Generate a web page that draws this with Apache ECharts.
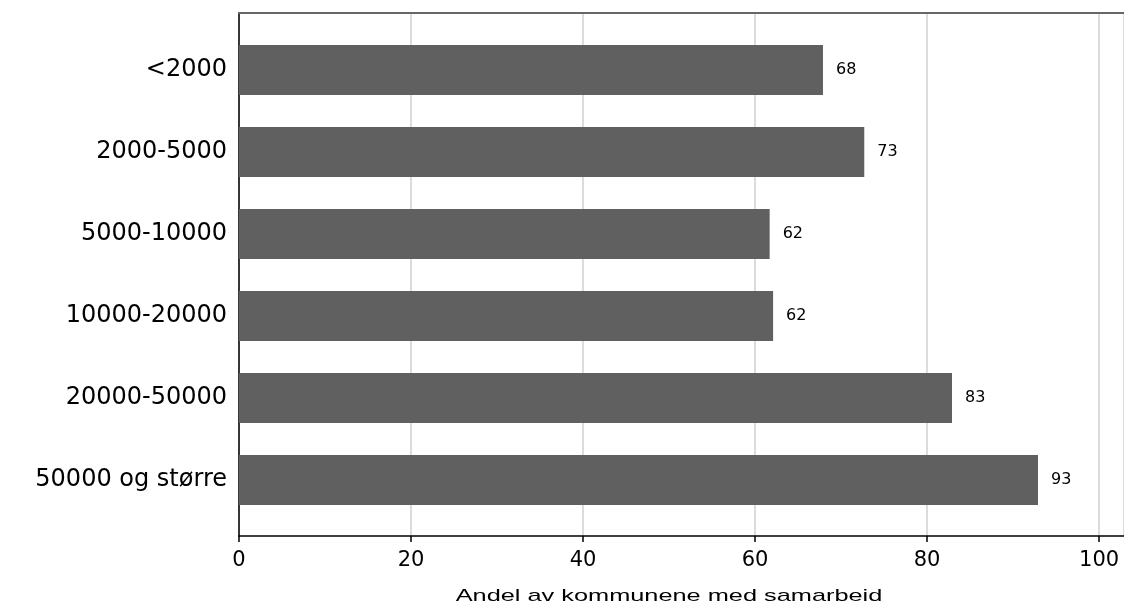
<!DOCTYPE html>
<html>
<head>
<meta charset="utf-8">
<script src="https://cdn.jsdelivr.net/npm/echarts@6/dist/echarts.min.js"></script>
<style>html,body{margin:0;padding:0;background:#fff;}#c{width:1124px;height:605px;}</style>
</head>
<body>
<div id="c"></div>
<script>
const categories = ['<2000', '2000-5000', '5000-10000', '10000-20000', '20000-50000', '50000 og større'];
const values = [67.9, 72.7, 61.7, 62.1, 82.9, 92.9];
const labels = ['68', '73', '62', '62', '83', '93'];
const xTicks = [0, 20, 40, 60, 80, 100];
const axisTitle = 'Andel av kommunene med samarbeid';

const FONT = '"Liberation Sans", Arial, sans-serif';
const WIDE = '"DejaVu Sans", sans-serif';
const XMAX = 102.9;
const chart = echarts.init(document.getElementById('c'), null, {renderer: 'canvas'});
chart.setOption({
  animation: false,
  backgroundColor: '#fff',
  grid: [
    {left: 239, right: 0, top: 13, bottom: 69},
    {left: 239, right: 0, top: 29, bottom: 84}
  ],
  xAxis: [
    {
      gridIndex: 0, type: 'value', min: 0, max: XMAX, interval: 20,
      axisLine: {show: true, lineStyle: {color: '#000', width: 1.5}},
      axisTick: {show: true, length: 6, lineStyle: {color: '#000', width: 1.5}},
      axisLabel: {show: true, color: '#000', fontSize: 21, fontFamily: WIDE, margin: 14, showMaxLabel: false,
        formatter: v => xTicks.includes(v) ? String(v) : ''},
      splitLine: {show: true, lineStyle: {color: '#dcdcdc', width: 2}}
    },
    {
      gridIndex: 0, type: 'value', position: 'top', min: 0, max: XMAX,
      axisLine: {show: true, lineStyle: {color: '#666', width: 2}},
      axisTick: {show: false}, axisLabel: {show: false}, splitLine: {show: false}
    },
    {
      gridIndex: 1, type: 'value', min: 0, max: XMAX, show: false
    }
  ],
  yAxis: [
    {
      gridIndex: 0, type: 'value', min: 0, max: 1,
      axisLine: {show: true, lineStyle: {color: '#000', width: 1.5}},
      axisTick: {show: false}, axisLabel: {show: false}, splitLine: {show: false}
    },
    {
      gridIndex: 1, type: 'category', data: categories, inverse: true,
      axisLine: {show: false}, axisTick: {show: false}, splitLine: {show: false},
      axisLabel: {color: '#000', fontSize: 24, fontFamily: WIDE, margin: 12}
    }
  ],
  graphic: [{
    type: 'text', x: 669, y: 596, scaleX: 1.49,
    style: {text: axisTitle, fill: '#000', fontSize: 17, fontFamily: FONT, textAlign: 'center', textVerticalAlign: 'middle'}
  }],
  series: [{
    type: 'bar', xAxisIndex: 2, yAxisIndex: 1,
    data: values, barWidth: 50,
    itemStyle: {color: '#606060'},
    label: {show: true, position: 'right', distance: 13, color: '#000', fontSize: 16, fontFamily: WIDE,
      formatter: p => labels[p.dataIndex]}
  }]
});
</script>
</body>
</html>
